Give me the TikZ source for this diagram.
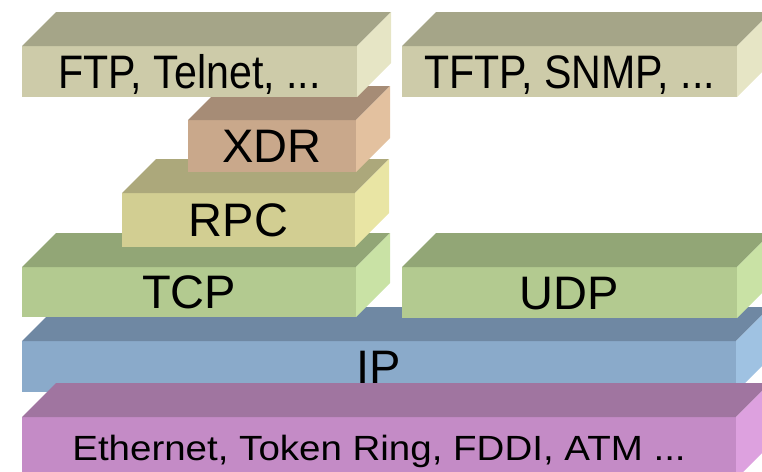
\documentclass[tikz,border=0pt]{standalone}
\usepackage{fontspec}
\setmainfont{Liberation Sans}
\newfontfamily\narrowlabel[FakeStretch=0.875]{Liberation Sans}
\newfontfamily\widelabel[FakeStretch=1.1]{Liberation Sans}

% front / top / side shades of each slab
\definecolor{appF}{HTML}{CDCBA9}\definecolor{appT}{HTML}{A5A588}\definecolor{appS}{HTML}{E6E5C5}
\definecolor{xdrF}{HTML}{C9A88B}\definecolor{xdrT}{HTML}{A68C76}\definecolor{xdrS}{HTML}{E3C19F}
\definecolor{rpcF}{HTML}{D2CE92}\definecolor{rpcT}{HTML}{ACA87B}\definecolor{rpcS}{HTML}{E9E5A4}
\definecolor{trnF}{HTML}{B3CA90}\definecolor{trnT}{HTML}{92A676}\definecolor{trnS}{HTML}{C9E2A5}
\definecolor{ipF}{HTML}{8AAACA}\definecolor{ipT}{HTML}{6F88A3}\definecolor{ipS}{HTML}{9FC2E2}
\definecolor{lnkF}{HTML}{C48BC6}\definecolor{lnkT}{HTML}{A075A0}\definecolor{lnkS}{HTML}{DDA1DF}

\tikzset{
  slab/.style={inner sep=0pt, outer sep=0pt, text=black},
  wordlabel/.style={font=\fontsize{47}{50}\selectfont, text height=33.7pt, text depth=0pt},
  listlabel/.style={font=\narrowlabel\fontsize{47}{50}\selectfont, text height=33.7pt, text depth=0pt},
  linklabel/.style={font=\widelabel\fontsize{35}{40}\selectfont, text height=25.1pt, text depth=0pt},
}

% top and right faces of a slab whose front face is node #1
\newcommand\slabfaces[3]{%
  \fill[#2] (#1.north west) -- ++(34,-34) -- ([shift={(34,-34)}]#1.north east) -- (#1.north east) -- cycle;
  \fill[#3] (#1.north east) -- ++(34,-34) -- ([shift={(34,-34)}]#1.south east) -- (#1.south east) -- cycle;
}

\begin{document}
\begin{tikzpicture}[x={(1pt,0pt)}, y={(0pt,-1pt)}]
\useasboundingbox (0,0) rectangle (762,471);
\clip (0,0) rectangle (762,471);

% network layer
\node[slab, wordlabel, fill=ipF, minimum width=714pt, minimum height=51pt] (ip) at (379,366.5) {IP};
\slabfaces{ip}{ipT}{ipS}

% link layer
\node[slab, linklabel, fill=lnkF, minimum width=714pt, minimum height=62pt] (eth) at (379,448) {Ethernet, Token Ring, FDDI, ATM ...};
\slabfaces{eth}{lnkT}{lnkS}

% transport layer
\node[slab, wordlabel, fill=trnF, minimum width=334pt, minimum height=50pt] (tcp) at (189,292) {TCP};
\slabfaces{tcp}{trnT}{trnS}
\node[slab, wordlabel, fill=trnF, minimum width=335pt, minimum height=51pt] (udp) at (569.5,292.5) {UDP};
\slabfaces{udp}{trnT}{trnS}

% session / presentation
\node[slab, wordlabel, fill=rpcF, minimum width=233pt, minimum height=54pt] (rpc) at (238.5,220) {RPC};
\slabfaces{rpc}{rpcT}{rpcS}
\node[slab, wordlabel, fill=xdrF, minimum width=168pt, minimum height=52pt] (xdr) at (272,146) {XDR};
\slabfaces{xdr}{xdrT}{xdrS}

% applications
\node[slab, listlabel, fill=appF, minimum width=335pt, minimum height=51pt] (ftp) at (189.5,71.5) {FTP, Telnet, ...};
\slabfaces{ftp}{appT}{appS}
\node[slab, listlabel, fill=appF, minimum width=335pt, minimum height=51pt] (tftp) at (569.5,71.5) {TFTP, SNMP, ...};
\slabfaces{tftp}{appT}{appS}
\end{tikzpicture}
\end{document}
